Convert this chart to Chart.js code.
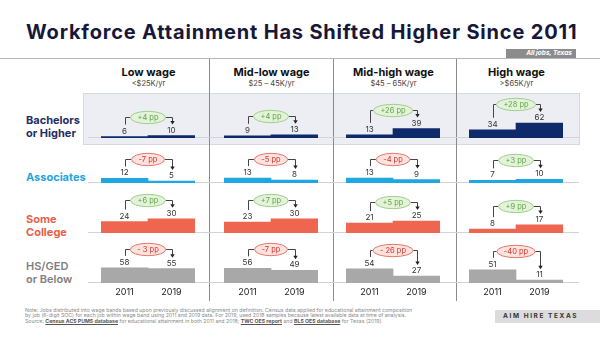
<!DOCTYPE html>
<html>
<head>
<meta charset="utf-8">
<script src="https://cdn.jsdelivr.net/npm/chart.js@4.4.1/dist/chart.umd.min.js"></script>
<style>
  body { margin: 0; width: 600px; height: 338px; position: relative; overflow: hidden; background: #fff; font-family: Inter, "Open Sans", sans-serif; }
  .abs { position: absolute; }
  #title { left: 26px; top: 20px; font-size: 20px; font-weight: 700; color: #17173a; white-space: nowrap; line-height: 24px; }
  #tag { left: 506px; top: 49px; width: 70px; height: 9px; background: #8c8c8c; color: #fff; font-size: 6.5px; font-weight: 700; font-style: italic; text-align: right; line-height: 9px; box-sizing: border-box; padding-right: 4px; }
  #rule { left: 0; top: 58px; width: 600px; height: 1px; background: #b5b5b5; }
  .sep { top: 59px; width: 1px; height: 242px; background: #8a8a8a; }
  #panel { left: 83px; top: 93px; width: 497px; height: 52px; background: #eceef3; border: 1px solid #d6d9e1; box-sizing: border-box; }
  .head { width: 123px; text-align: center; }
  .head b { display: block; font-size: 11px; color: #111; line-height: 13px; }
  .head span { display: block; font-size: 7.5px; color: #444; line-height: 9px; }
  .row { left: 26px; font-size: 11px; font-weight: 700; line-height: 12.5px; }
  #note { left: 25px; top: 308px; font-size: 5.2px; line-height: 5.3px; color: #8a8a8a; white-space: nowrap; }
  #note u { color: #555; font-weight: 700; }
  #brand { left: 495px; top: 310px; width: 105px; height: 13px; background: #dcdcdc; color: #333; font-size: 6.5px; font-weight: 700; letter-spacing: 1.6px; line-height: 13px; padding-left: 8px; box-sizing: border-box; }
</style>
</head>
<body>
<div class="abs" id="title">Workforce Attainment Has Shifted Higher Since 2011</div>
<div class="abs" id="tag">All jobs, Texas</div>
<div class="abs" id="rule"></div>
<div class="abs" id="panel"></div>
<div class="abs" id="note">
  <div>Note: Jobs distributed into wage bands based upon previously discussed alignment on definition. Census data applied for educational attainment composition</div>
  <div>by job (6-digit SOC) for each job within wage band using 2011 and 2019 data. For 2019, used 2018 samples because latest available data at time of analysis.</div>
  <div>Source: <u>Census ACS PUMS database</u> for educational attainment in both 2011 and 2018; <u>TWC OES report</u> and <u>BLS OES database</u> for Texas (2019)</div>
</div>
<div class="abs" id="brand">AIM HIRE TEXAS</div>

<script>
const years = ["2011", "2019"];
const bands = ["Low wage", "Mid-low wage", "Mid-high wage", "High wage"];
const bandRanges = ["<$25K/yr", "$25 – 45K/yr", "$45 – 65K/yr", ">$65K/yr"];
const levels = [["Bachelors", "or Higher"], ["Associates"], ["Some", "College"], ["HS/GED", "or Below"]];

const bachelors2011 = [6, 9, 13, 34];
const bachelors2019 = [10, 13, 39, 62];
const bachelorsChange = ["+4 pp", "+4 pp", "+26 pp", "+28 pp"];

const associates2011 = [12, 13, 13, 7];
const associates2019 = [5, 8, 9, 10];
const associatesChange = ["-7 pp", "-5 pp", "-4 pp", "+3 pp"];

const someCollege2011 = [24, 23, 21, 8];
const someCollege2019 = [30, 30, 25, 17];
const someCollegeChange = ["+6 pp", "+7 pp", "+5 pp", "+9 pp"];

const hsGed2011 = [58, 56, 54, 51];
const hsGed2019 = [55, 49, 27, 11];
const hsGedChange = ["- 3 pp", "-7 pp", "- 26 pp", "-40 pp"];

// per row: data, bar colour, label colour, y axis max
const rows = [
  { a: bachelors2011, b: bachelors2019, change: bachelorsChange, bar: "#0f2a6b", text: "#1f2d66", max: 207 },
  { a: associates2011, b: associates2019, change: associatesChange, bar: "#1ea7e1", text: "#23a5de", max: 132 },
  { a: someCollege2011, b: someCollege2019, change: someCollegeChange, bar: "#ee6650", text: "#e6604c", max: 105 },
  { a: hsGed2011, b: hsGed2019, change: hsGedChange, bar: "#a8a8a8", text: "#808080", max: 192 }
];

const colLeft = [88, 211, 333, 456];
const baselines = [138, 183, 233, 283];
const FONT = "Inter, 'Open Sans', sans-serif";

// fit title to the reference width
const title = document.getElementById("title");
title.style.letterSpacing = ((551 - title.offsetWidth) / (title.textContent.length - 1)) + "px";

// column separators and headers
[209, 333, 456].forEach(x => {
  const d = document.createElement("div");
  d.className = "abs sep";
  d.style.left = x + "px";
  document.body.appendChild(d);
});
bands.forEach((name, i) => {
  const d = document.createElement("div");
  d.className = "abs head";
  d.style.left = colLeft[i] - 1 + "px";
  d.style.top = "66px";
  d.innerHTML = `<b>${name}</b><span>${bandRanges[i].replace("<", "&lt;")}</span>`;
  document.body.appendChild(d);
});

// row labels
const rowLabelTop = [114, 171, 213, 260];
levels.forEach((lines, r) => {
  const d = document.createElement("div");
  d.className = "abs row";
  d.style.top = rowLabelTop[r] + "px";
  d.style.color = rows[r].text;
  if (r === 3) d.style.fontWeight = 600;
  d.innerHTML = lines.join("<br>");
  document.body.appendChild(d);
});

const bracketPlugin = {
  id: "bracket",
  beforeDatasetsDraw(chart) {
    const { ctx, scales: { y } } = chart;
    const y0 = Math.round(y.getPixelForValue(0)) - 0.5;
    ctx.save();
    ctx.strokeStyle = "#d3d3d3";
    ctx.lineWidth = 1;
    ctx.beginPath();
    ctx.moveTo(0, y0);
    ctx.lineTo(chart.width, y0);
    ctx.stroke();
    ctx.restore();
  },
  afterDatasetsDraw(chart, args, opts) {
    const ctx = chart.ctx;
    const bars = chart.getDatasetMeta(0).data;
    const vals = chart.data.datasets[0].data;
    ctx.save();

    // value labels
    ctx.font = "8px " + FONT;
    ctx.fillStyle = "#333";
    ctx.textAlign = "center";
    ctx.textBaseline = "alphabetic";
    bars.forEach((b, i) => ctx.fillText(vals[i], b.x, b.y - 3));

    const top = Math.min(bars[0].y, bars[1].y);
    const ey = Math.round(top - 19) + 0.5;
    const cx = (bars[0].x + bars[1].x) / 2;
    ctx.font = "7.5px " + FONT;
    const rx = ctx.measureText(opts.text).width / 2 + 7;
    const ry = 6.2;
    const lx = Math.round(bars[0].x) + 0.5;
    const rxp = Math.round(bars[1].x) + 0.5;

    // bracket with arrow
    ctx.strokeStyle = "#444";
    ctx.lineWidth = 1;
    ctx.beginPath();
    ctx.moveTo(lx, bars[0].y - 12);
    ctx.lineTo(lx, ey);
    ctx.lineTo(cx - rx, ey);
    ctx.moveTo(cx + rx, ey);
    ctx.lineTo(rxp, ey);
    ctx.lineTo(rxp, bars[1].y - 14);
    ctx.stroke();
    ctx.fillStyle = "#222";
    ctx.beginPath();
    ctx.moveTo(rxp - 2.2, bars[1].y - 14.5);
    ctx.lineTo(rxp + 2.2, bars[1].y - 14.5);
    ctx.lineTo(rxp, bars[1].y - 11);
    ctx.closePath();
    ctx.fill();

    // change bubble
    const up = vals[1] >= vals[0];
    ctx.beginPath();
    ctx.ellipse(cx, ey, rx, ry, 0, 0, Math.PI * 2);
    ctx.fillStyle = up ? "#e3f2d9" : "#fde2de";
    ctx.fill();
    ctx.strokeStyle = up ? "#9fd08a" : "#e3786c";
    ctx.stroke();
    ctx.fillStyle = up ? "#5da743" : "#d2322a";
    ctx.textBaseline = "middle";
    ctx.fillText(opts.text, cx, ey + 0.5);
    ctx.restore();
  }
};

rows.forEach((row, r) => {
  const last = r === rows.length - 1;
  bands.forEach((band, c) => {
    const canvas = document.createElement("canvas");
    const h = last ? 68 : 52;
    canvas.width = 123;
    canvas.height = h;
    canvas.className = "abs";
    canvas.style.left = colLeft[c] + "px";
    canvas.style.top = (baselines[r] - 50) + "px";
    document.body.appendChild(canvas);

    const xAxis = {
      display: last,
      grid: { display: false, drawTicks: false },
      border: { display: false },
      ticks: { color: "#222", font: { size: 9, family: FONT }, padding: 4 }
    };
    if (last) xAxis.afterFit = s => { s.height = 18; };

    new Chart(canvas.getContext("2d"), {
      type: "bar",
      data: {
        labels: years,
        datasets: [{
          data: [row.a[c], row.b[c]],
          backgroundColor: row.bar,
          borderWidth: 0,
          categoryPercentage: 1,
          barPercentage: 1
        }]
      },
      options: {
        responsive: false,
        animation: false,
        layout: { padding: { left: 13, right: 16, top: 0, bottom: last ? 0 : 2 } },
        plugins: {
          legend: { display: false },
          tooltip: { enabled: false },
          bracket: { text: row.change[c] }
        },
        scales: {
          x: xAxis,
          y: { display: false, min: 0, max: row.max }
        }
      },
      plugins: [bracketPlugin]
    });
  });
});
</script>
</body>
</html>
